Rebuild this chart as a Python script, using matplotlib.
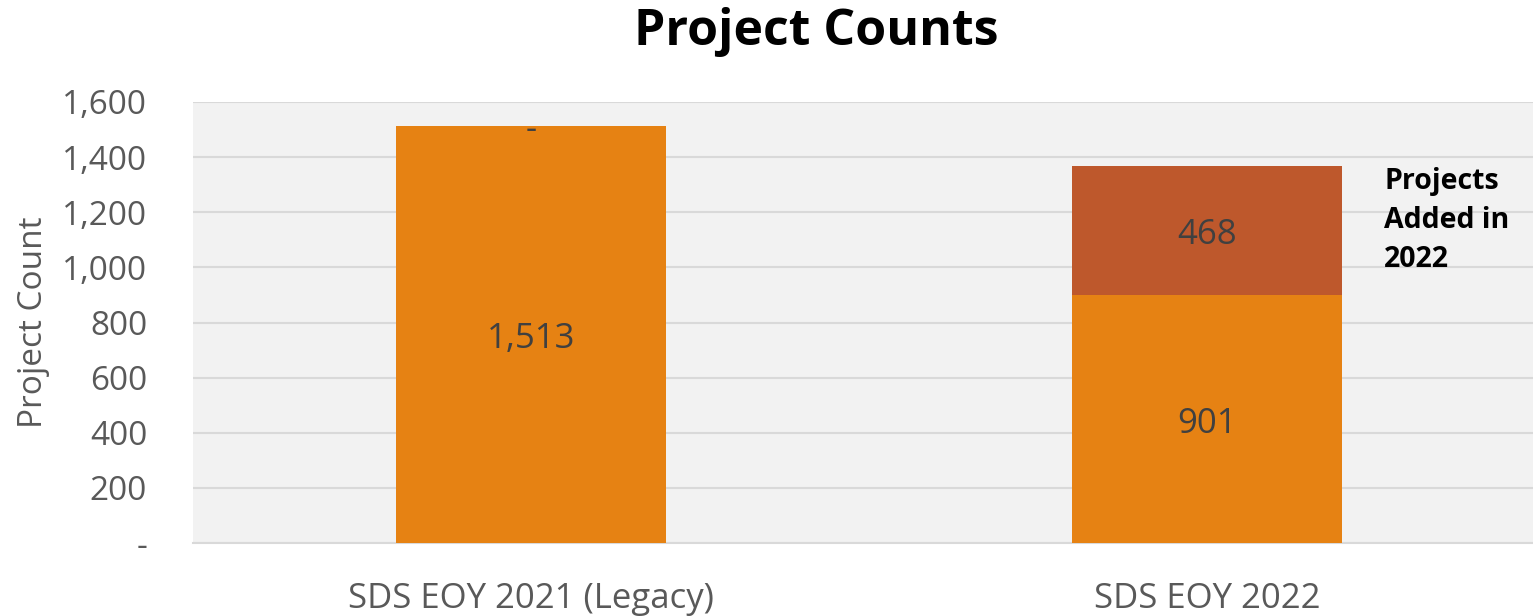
import matplotlib.pyplot as plt
import numpy as np
from matplotlib.ticker import FuncFormatter

plt.rcParams['font.family'] = ['Open Sans', 'DejaVu Sans']

categories = ['SDS EOY 2021 (Legacy)', 'SDS EOY 2022']
existing = [1513, 901]
added = [0, 468]
series_note = 'Projects\nAdded in\n2022'

c_base = '#E68213'
c_added = '#BE582C'
txt = '#595959'

fig = plt.figure(figsize=(15.33, 6.16), dpi=100)
ax = fig.add_axes([193/1533, 1-543/616, 1352/1533, 441/616])
ax.set_facecolor('#F2F2F2')
fig.patch.set_facecolor('white')

x = np.arange(len(categories))
b1 = ax.bar(x, existing, width=0.4, color=c_base, zorder=3)
b2 = ax.bar(x, added, width=0.4, bottom=existing, color=c_added, zorder=3)

def fmt(v):
    return '-' if v == 0 else f'{v:,.0f}'

lab1 = ax.bar_label(b1, labels=[fmt(v) for v in existing], label_type='center',
                    fontsize=25, color='#404040')
lab2 = ax.bar_label(b2, labels=['' if v == 0 else fmt(v) for v in added],
                    label_type='center', fontsize=25, color='#404040')
for a in lab1 + lab2:
    a.xyann = (0, -3.5)   # nudge down a bit, calibri sits lower
# zero-height segments: excel puts the "-" label just under the stack top
for xi, base, v in zip(x, existing, added):
    if v == 0:
        ax.text(xi, base + v - 14, fmt(v), fontsize=25, color='#404040',
                ha='center', va='center', zorder=4)

ax.text(x[1] + 0.262, existing[1] + added[1] - 5, series_note, fontsize=20.5,
        fontweight='bold', va='top', ha='left', linespacing=1.45)

ax.set_xlim(-0.5, 1.5)
ax.set_ylim(0, 1600)
ax.set_yticks(range(0, 1601, 200))
ax.yaxis.set_major_formatter(FuncFormatter(lambda v, p: fmt(v)))
ax.grid(axis='y', color='#D9D9D9', linewidth=1.5, zorder=0)
ax.set_xticks(x)
ax.set_xticklabels(categories)
ax.tick_params(axis='both', length=0, colors=txt)
ax.tick_params(axis='x', pad=28, labelsize=25)
ax.tick_params(axis='y', pad=33, labelsize=24)
for s in ['top', 'right', 'left']:
    ax.spines[s].set_visible(False)
ax.spines['bottom'].set_color('#D9D9D9')
ax.spines['bottom'].set_linewidth(1.5)

ax.set_ylabel('Project Count', fontsize=24, color=txt)
ax.yaxis.set_label_coords(-143/1352, 0.5)
fig.text(816/1533, 1-32/616, 'Project Counts', fontsize=36, fontweight='bold',
         ha='center', va='center')

fig.savefig('out.png', dpi=100)
